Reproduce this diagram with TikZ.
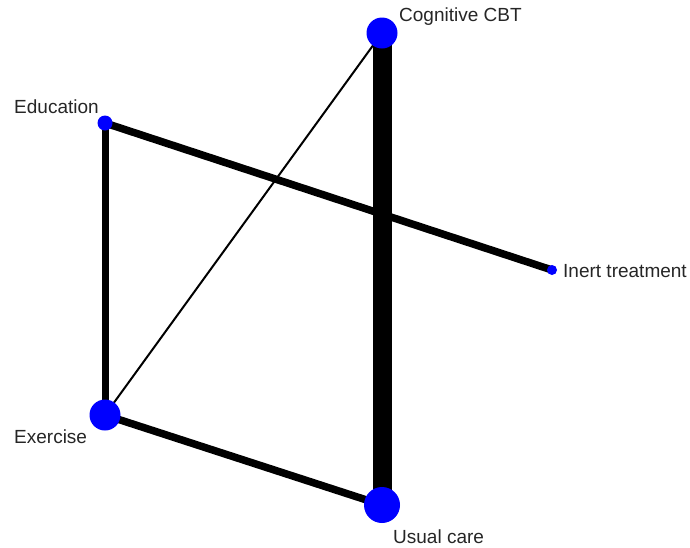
\documentclass[tikz,border=0pt]{standalone}
\usepackage{fontspec}
\setmainfont{Liberation Sans}
\usetikzlibrary{positioning}

\begin{document}
\begin{tikzpicture}[
    x=1pt, y=-1pt,
    trt/.style={circle, fill=blue, inner sep=0pt},
    lbl/.style={font=\fontsize{19}{21}\selectfont, text=black!85, inner sep=0pt},
    link/.style={draw=black, line cap=butt}
]
\useasboundingbox[fill=white] (0,0) rectangle (690,547);

% Edges first, nodes on top
\coordinate (cbtc) at (382,33);
\coordinate (educ) at (105,123);
\coordinate (inertc) at (552,270);
\coordinate (exc) at (105,415);
\coordinate (ucc) at (382,505);

\draw[link, line width=19pt] (cbtc) -- (ucc);
\draw[link, line width=7.5pt] (educ) -- (inertc);
\draw[link, line width=7pt] (educ) -- (exc);
\draw[link, line width=7.5pt] (exc) -- (ucc);
\draw[link, line width=2pt] (exc) -- (cbtc);

% Nodes
\node[trt, minimum size=31pt] (cbt) at (cbtc) {};
\node[trt, minimum size=15pt] (edu) at (educ) {};
\node[trt, minimum size=10pt] (inert) at (inertc) {};
\node[trt, minimum size=31pt] (ex) at (exc) {};
\node[trt, minimum size=36pt] (uc) at (ucc) {};

% Labels
\node[lbl, anchor=west] at (399,17) {Cognitive CBT};
\node[lbl, anchor=west] at (14,107) {Education};
\node[lbl, anchor=west] at (563,271) {Inert treatment};
\node[lbl, anchor=west] at (14,437) {Exercise};
\node[lbl, anchor=west] at (393,537) {Usual care};

\end{tikzpicture}
\end{document}
